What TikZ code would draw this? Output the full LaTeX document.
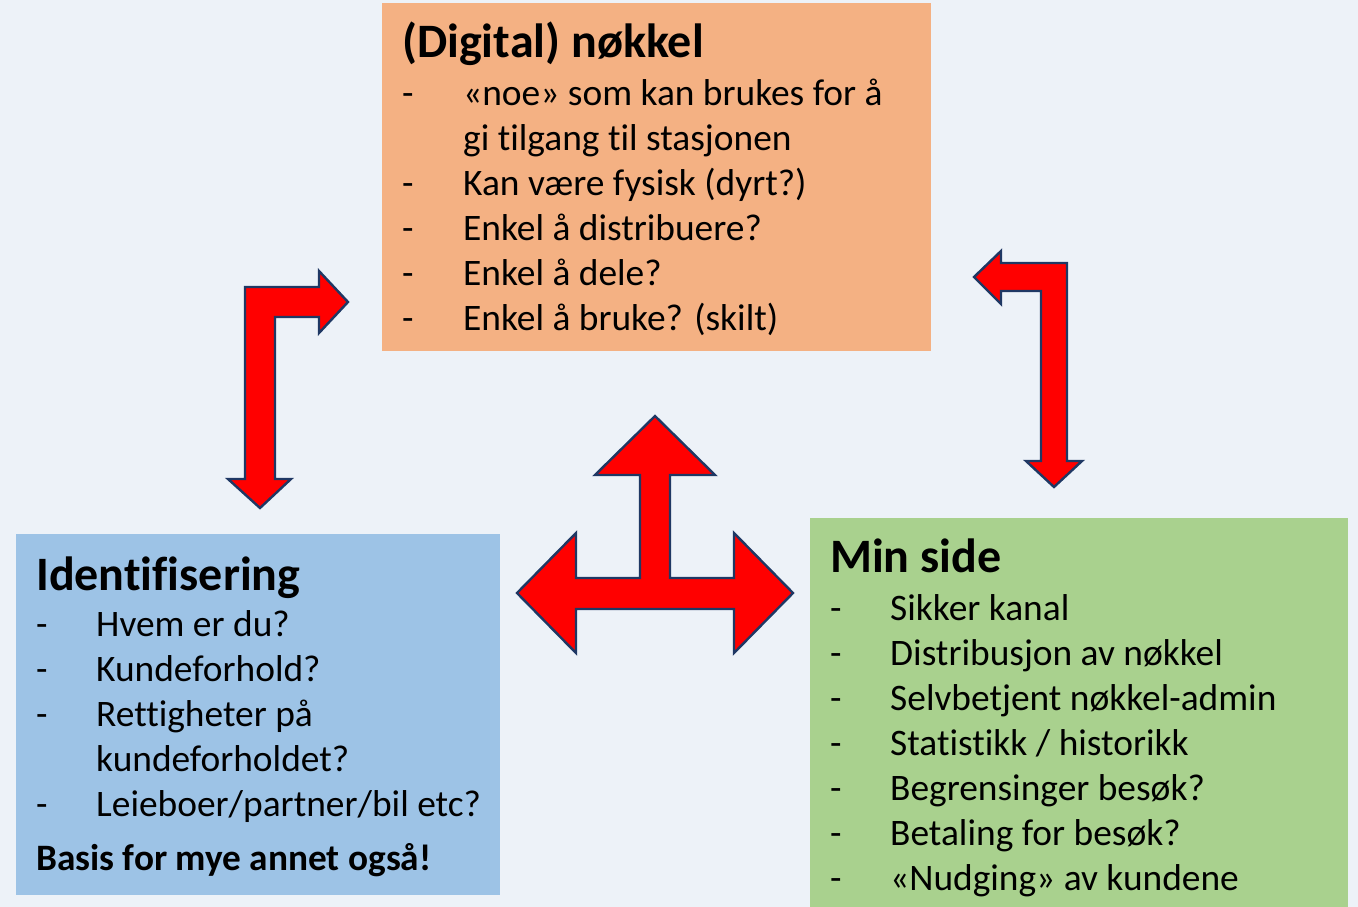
\documentclass[tikz,border=0pt]{standalone}
\usepackage{fontspec}
\setmainfont{Carlito}[Ligatures=NoCommon]
\usepackage{xcolor}
\usetikzlibrary{calc}
\definecolor{bg}{HTML}{EDF2F8}
\definecolor{keyfill}{HTML}{F4B183}
\definecolor{idfill}{HTML}{9DC3E6}
\definecolor{sidefill}{HTML}{A9D18E}
\definecolor{arrowred}{HTML}{FF0000}
\definecolor{arrowline}{HTML}{1F3864}
\tikzset{
  panel/.style={draw=none, inner sep=0pt, anchor=north west},
  headLbl/.style={font=\fontsize{48}{56}\selectfont\bfseries, anchor=base west, inner sep=0pt},
  itemLbl/.style={font=\fontsize{37.4}{45}\selectfont, anchor=base west, inner sep=0pt},
  noteLbl/.style={font=\fontsize{37.3}{45}\selectfont\bfseries, anchor=base west, inner sep=0pt},
  blockArrow/.style={fill=arrowred, draw=arrowline, line width=2.4pt, line join=miter},
}

\begin{document}
\begin{tikzpicture}[x=1pt, y=-1pt]
  \fill[bg] (0,0) rectangle (1358,907);
  \useasboundingbox (0,0) rectangle (1358,907);

  % panels
  \node[panel, fill=keyfill, minimum width=549pt, minimum height=348pt] (key) at (382,3) {};
  \node[panel, fill=idfill, minimum width=484pt, minimum height=361pt] (ident) at (16,534) {};
  \node[panel, fill=sidefill, minimum width=538pt, minimum height=389pt] (side) at (810,518) {};

  % (digital) key
  \node[headLbl] (key-t) at (402,58) {(Digital) nøkkel};
  \foreach \dsh/\txt [count=\i] in {1/{«noe» som kan brukes for å}, 0/{gi tilgang til stasjonen},
      1/{Kan være fysisk (dyrt?)}, 1/{Enkel å distribuere?}, 1/{Enkel å dele?}, 1/{Enkel å bruke? (skilt)}} {
    \node[itemLbl] (key-\i) at (463,60+45*\i) {\txt};
    \ifnum\dsh=1 \node[itemLbl] (key-d\i) at (402,60+45*\i) {-}; \fi
  }

  % identification
  \node[headLbl] (ident-t) at (36,590) {Identifisering};
  \foreach \dsh/\txt [count=\i] in {1/{Hvem er du?}, 1/{Kundeforhold?}, 1/{Rettigheter på},
      0/{kundeforholdet?}, 1/{Leieboer/partner/bil etc?}} {
    \node[itemLbl] (ident-\i) at (96,591+45*\i) {\txt};
    \ifnum\dsh=1 \node[itemLbl] (ident-d\i) at (36,591+45*\i) {-}; \fi
  }
  \node[noteLbl] (ident-n) at (36,870) {Basis for mye annet også!};

  % my page
  \node[headLbl] (side-t) at (830,572) {Min side};
  \foreach \txt [count=\i] in {{Sikker kanal}, {Distribusjon av nøkkel}, {Selvbetjent nøkkel-admin},
      {Statistikk / historikk}, {Begrensinger besøk?}, {Betaling for besøk?}, {«Nudging» av kundene}} {
    \node[itemLbl] (side-\i) at (890,575+45*\i) {\txt};
    \node[itemLbl] (side-d\i) at (830,575+45*\i) {-};
  }

  % block arrows
  \draw[blockArrow] (245,287) -- (319,287) -- (319,271) -- (348,302) -- (319,333) -- (319,317)
    -- (275,317) -- (275,479) -- (291,479) -- (260,508) -- (228,479) -- (245,479) -- cycle;
  \draw[blockArrow] (1067,263) -- (1067,461) -- (1082,461) -- (1054,487) -- (1026,461) -- (1041,461)
    -- (1041,291) -- (1001,291) -- (1001,304) -- (974,277) -- (1001,251) -- (1001,263) -- cycle;
  \draw[blockArrow] (655,416) -- (715,475) -- (670,475) -- (670,578) -- (734,578) -- (734,533)
    -- (793,593) -- (734,653) -- (734,609) -- (576,609) -- (576,653) -- (517,593) -- (576,533)
    -- (576,578) -- (640,578) -- (640,475) -- (595,475) -- cycle;
\end{tikzpicture}
\end{document}
